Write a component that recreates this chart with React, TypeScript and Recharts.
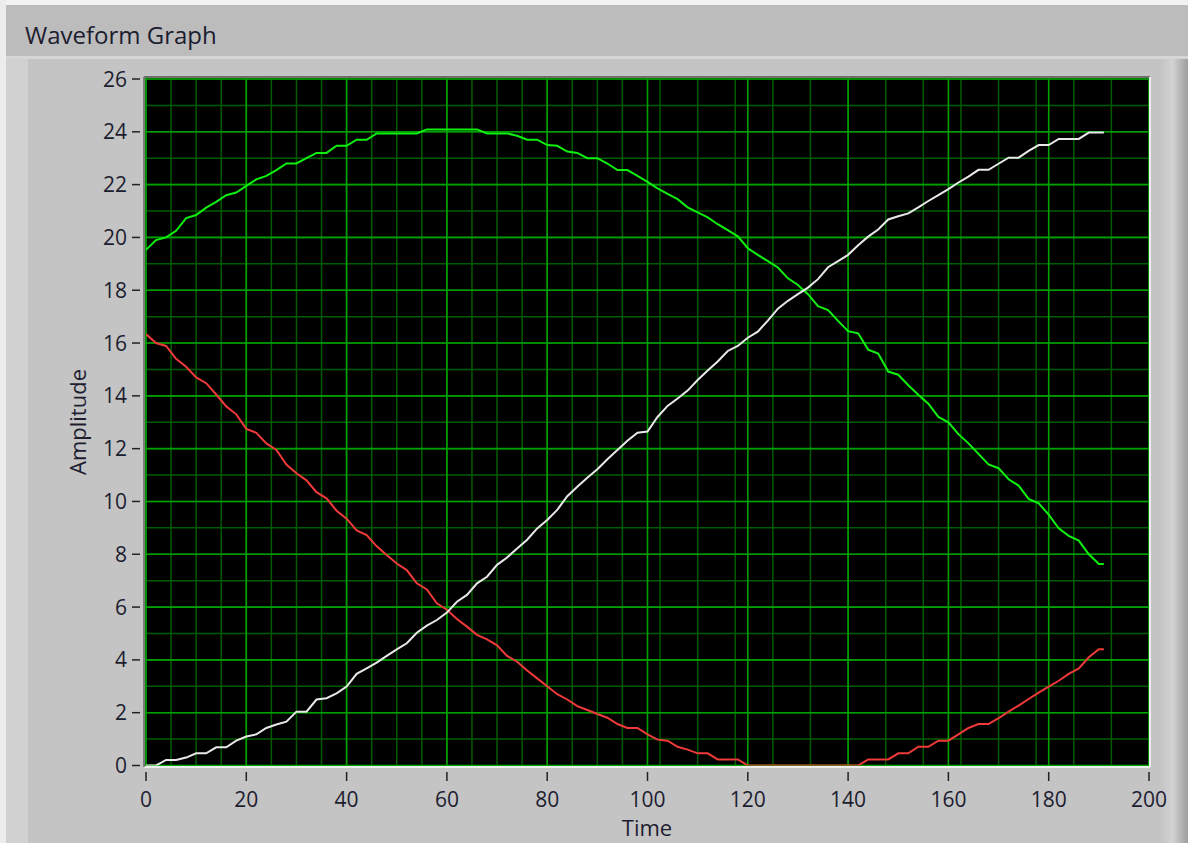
import { LineChart, Line, XAxis, YAxis, CartesianGrid } from 'recharts'

// sample times (every 2 units, plus the last sample)
const TIME = [
  0, 2, 4, 6, 8, 10, 12, 14, 16, 18,
  20, 22, 24, 26, 28, 30, 32, 34, 36, 38,
  40, 42, 44, 46, 48, 50, 52, 54, 56, 58,
  60, 62, 64, 66, 68, 70, 72, 74, 76, 78,
  80, 82, 84, 86, 88, 90, 92, 94, 96, 98,
  100, 102, 104, 106, 108, 110, 112, 114, 116, 118,
  120, 122, 124, 126, 128, 130, 132, 134, 136, 138,
  140, 142, 144, 146, 148, 150, 152, 154, 156, 158,
  160, 162, 164, 166, 168, 170, 172, 174, 176, 178,
  180, 182, 184, 186, 188, 190, 191,
]

const GREEN = [
  19.53, 19.9, 20.0, 20.25, 20.73, 20.85, 21.13, 21.35, 21.6, 21.7,
  21.95, 22.2, 22.33, 22.55, 22.8, 22.8, 23.0, 23.2, 23.2, 23.47,
  23.47, 23.7, 23.7, 23.94, 23.94, 23.94, 23.94, 23.94, 24.09, 24.09,
  24.09, 24.09, 24.09, 24.09, 23.94, 23.94, 23.94, 23.85, 23.7, 23.7,
  23.5, 23.47, 23.25, 23.2, 23.0, 23.0, 22.8, 22.55, 22.55, 22.33,
  22.1, 21.86, 21.65, 21.45, 21.14, 20.95, 20.76, 20.5, 20.28, 20.04,
  19.59, 19.34, 19.1, 18.86, 18.45, 18.2, 17.85, 17.4, 17.25, 16.84,
  16.45, 16.37, 15.75, 15.6, 14.92, 14.8, 14.4, 14.04, 13.7, 13.2,
  13.0, 12.55, 12.2, 11.8, 11.4, 11.26, 10.84, 10.6, 10.1, 9.93,
  9.5, 8.98, 8.7, 8.52, 8.0, 7.63, 7.63,
]

const WHITE = [
  0, 0, 0.21, 0.21, 0.3, 0.46, 0.46, 0.69, 0.69, 0.94,
  1.1, 1.18, 1.42, 1.55, 1.66, 2.04, 2.04, 2.5, 2.55, 2.73,
  2.99, 3.47, 3.68, 3.9, 4.15, 4.4, 4.63, 5.03, 5.3, 5.51,
  5.79, 6.2, 6.46, 6.9, 7.15, 7.6, 7.88, 8.22, 8.55, 8.98,
  9.3, 9.68, 10.2, 10.56, 10.9, 11.22, 11.6, 11.95, 12.3, 12.6,
  12.65, 13.2, 13.62, 13.9, 14.2, 14.6, 14.96, 15.3, 15.7, 15.89,
  16.2, 16.43, 16.85, 17.3, 17.6, 17.85, 18.1, 18.42, 18.87, 19.1,
  19.34, 19.7, 20.03, 20.3, 20.68, 20.8, 20.91, 21.14, 21.38, 21.6,
  21.83, 22.08, 22.3, 22.56, 22.56, 22.79, 23.02, 23.02, 23.28, 23.5,
  23.5, 23.73, 23.73, 23.73, 23.97, 23.97, 23.97,
]

const RED = [
  16.34, 16.0, 15.89, 15.4, 15.1, 14.7, 14.48, 14.05, 13.6, 13.3,
  12.75, 12.6, 12.2, 11.95, 11.4, 11.07, 10.8, 10.35, 10.12, 9.65,
  9.35, 8.9, 8.73, 8.3, 7.97, 7.65, 7.4, 6.9, 6.67, 6.14,
  5.9, 5.55, 5.26, 4.95, 4.78, 4.55, 4.15, 3.93, 3.6, 3.3,
  3.0, 2.7, 2.5, 2.25, 2.1, 1.95, 1.81, 1.57, 1.42, 1.42,
  1.18, 0.98, 0.94, 0.71, 0.6, 0.46, 0.46, 0.23, 0.23, 0.23,
  0, 0, 0, 0, 0, 0, 0, 0, 0, 0,
  0, 0, 0.23, 0.23, 0.23, 0.46, 0.46, 0.71, 0.71, 0.94,
  0.94, 1.18, 1.42, 1.57, 1.57, 1.79, 2.04, 2.27, 2.52, 2.76,
  2.99, 3.21, 3.47, 3.68, 4.1, 4.4, 4.4,
]

const X_TICKS = [0, 20, 40, 60, 80, 100, 120, 140, 160, 180, 200]
const Y_TICKS = [0, 2, 4, 6, 8, 10, 12, 14, 16, 18, 20, 22, 24, 26]
// minor grid divisions
const X_MINOR = Array.from({ length: 81 }, (_, i) => i * 2.5)
const Y_MINOR = Array.from({ length: 53 }, (_, i) => i * 0.5)

const data = TIME.map((t, i) => ({ t, green: GREEN[i], white: WHITE[i], red: RED[i] }))

const FONT = '"Open Sans", "DejaVu Sans", sans-serif'
const INK = '#1d1d30'

function XTick({ x, y, payload }: any) {
  return (
    <g>
      <line x1={x} x2={x} y1={y + 5} y2={y + 14} stroke="#222" strokeWidth={1.5} />
      <text x={x} y={y + 40} textAnchor="middle" fill={INK} fontSize={21} fontFamily={FONT}>
        {payload.value}
      </text>
    </g>
  )
}

function YTick({ x, y, payload }: any) {
  return (
    <g>
      <line x1={x - 12} x2={x - 4} y1={y} y2={y} stroke="#222" strokeWidth={1.5} />
      <text x={x - 17} y={y} dy="0.36em" textAnchor="end" fill={INK} fontSize={21} fontFamily={FONT}>
        {payload.value}
      </text>
    </g>
  )
}

const abs = (s: React.CSSProperties): React.CSSProperties => ({ position: 'absolute', ...s })

export default function App() {
  return (
    <div style={{
      position: 'fixed', left: 0, top: 0, width: 1188, height: 843,
      overflow: 'hidden', background: '#c4c4c4', fontFamily: FONT,
    }}>
      {/* frame */}
      <div style={abs({ left: 0, top: 0, width: 1188, height: 5, background: '#f2f2f2' })} />
      <div style={abs({ left: 0, top: 5, width: 1188, height: 51, background: '#bcbcbc' })} />
      <div style={abs({ left: 0, top: 56, width: 1188, height: 3, background: '#d6d6d6' })} />
      <div style={abs({ left: 0, top: 0, width: 6, height: 843, background: '#ececec' })} />
      <div style={abs({ left: 6, top: 59, width: 22, height: 784, background: '#d1d1d1' })} />
      <div style={abs({
        left: 1160, top: 59, width: 28, height: 784,
        background: 'linear-gradient(to right, #c4c4c4, #d2d2d2 45%, #9e9e9e)',
      })} />
      <div style={abs({ left: 25, top: 19, fontSize: 24, lineHeight: '32px', color: INK, whiteSpace: 'nowrap' })}>
        Waveform Graph
      </div>

      <div style={abs({ left: 0, top: 0 })}>
        <LineChart width={1188} height={843} data={data} margin={{ top: 75, right: 36, bottom: 16, left: 44 }}>
          <XAxis xAxisId="minor" dataKey="t" type="number" domain={[0, 200]} ticks={X_MINOR}
            padding={{ left: 2, right: 1 }} allowDataOverflow hide />
          <YAxis yAxisId="minor" type="number" domain={[0, 26]} ticks={Y_MINOR}
            padding={{ top: 2, bottom: 1.5 }} allowDataOverflow hide />
          <XAxis xAxisId="top" orientation="top" dataKey="t" type="number" domain={[0, 200]}
            padding={{ left: 2, right: 1 }} height={2} tick={false} tickLine={false}
            axisLine={{ stroke: '#6e6e6e', strokeWidth: 2 }} />
          <YAxis yAxisId="right" orientation="right" type="number" domain={[0, 26]}
            padding={{ top: 2, bottom: 1.5 }} width={2} tick={false} tickLine={false}
            axisLine={{ stroke: '#ededed', strokeWidth: 2 }} />
          <XAxis
            xAxisId="main" dataKey="t" type="number" domain={[0, 200]} ticks={X_TICKS} interval={0}
            padding={{ left: 2, right: 1 }} allowDataOverflow height={60}
            tickSize={0} tickMargin={0} tickLine={false} tick={<XTick />}
            axisLine={{ stroke: '#ededed', strokeWidth: 2 }}
            label={{ value: 'Time', position: 'bottom', offset: -7, fill: INK, fontSize: 22, fontFamily: FONT }}
          />
          <YAxis
            yAxisId="main" type="number" domain={[0, 26]} ticks={Y_TICKS} interval={0}
            padding={{ top: 2, bottom: 1.5 }} allowDataOverflow width={100}
            tickSize={0} tickMargin={0} tickLine={false} tick={<YTick />}
            axisLine={{ stroke: '#7c7c7c', strokeWidth: 2 }}
            label={{
              value: 'Amplitude', angle: -90, position: 'insideLeft', offset: 34,
              fill: INK, fontSize: 22, fontFamily: FONT, style: { textAnchor: 'middle' },
            }}
          />
          <CartesianGrid xAxisId="minor" yAxisId="minor" stroke="#005c00" strokeWidth={1.5} fill="#000" fillOpacity={1} />
          <CartesianGrid xAxisId="main" yAxisId="main" stroke="#00a000" strokeWidth={1.6} />
          <Line xAxisId="main" yAxisId="main" dataKey="green" type="linear" stroke="#10f010" strokeWidth={2}
            dot={false} activeDot={false} isAnimationActive={false} />
          <Line xAxisId="main" yAxisId="main" dataKey="red" type="linear" stroke="#f03a3a" strokeWidth={2}
            dot={false} activeDot={false} isAnimationActive={false} />
          <Line xAxisId="main" yAxisId="main" dataKey="white" type="linear" stroke="#e8e8e8" strokeWidth={2}
            dot={false} activeDot={false} isAnimationActive={false} />
        </LineChart>
      </div>
    </div>
  )
}
